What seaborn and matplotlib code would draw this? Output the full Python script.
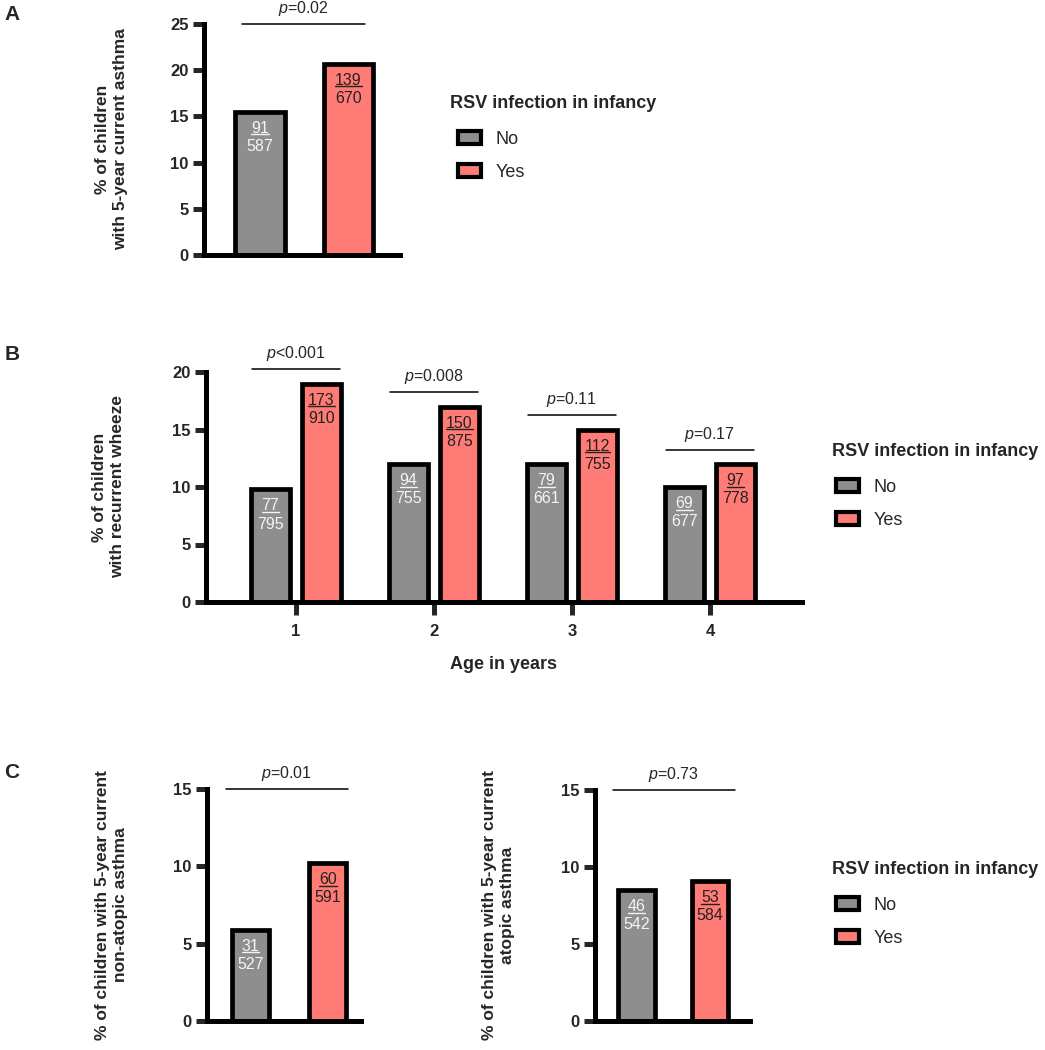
"""
rsv_asthma_bars.py
Bar charts: RSV infection in infancy vs. asthma / recurrent wheeze.
"""

import matplotlib
matplotlib.use("Agg")
import matplotlib.pyplot as plt
from matplotlib.patches import Patch
from matplotlib.lines import Line2D
import seaborn as sns
import pandas as pd

# ---- data ----
groups = ["No", "Yes"]

# A: 5-year current asthma
a_pct = [15.5, 20.7]
a_num = [91, 139]
a_den = [587, 670]
a_p = "=0.02"

# B: recurrent wheeze by age
b_ages = [1, 2, 3, 4]
b_no_pct = [9.8, 12.0, 12.0, 10.0]
b_yes_pct = [19.0, 17.0, 15.0, 12.0]
b_no_num = [77, 94, 79, 69]
b_no_den = [795, 755, 661, 677]
b_yes_num = [173, 150, 112, 97]
b_yes_den = [910, 875, 755, 778]
b_p = ["<0.001", "=0.008", "=0.11", "=0.17"]

# C: non-atopic / atopic asthma
c1_pct = [5.9, 10.2]
c1_num = [31, 60]
c1_den = [527, 591]
c1_p = "=0.01"
c2_pct = [8.5, 9.1]
c2_num = [46, 53]
c2_den = [542, 584]
c2_p = "=0.73"

legend_title = "RSV infection in infancy"
colors = {"No": "#8e8e8e", "Yes": "#ff7b75"}
text_colors = {"No": "#f4f4f4", "Yes": "#222222"}

sns.set_style("ticks")
plt.rcParams["font.family"] = ["Liberation Sans", "DejaVu Sans"]
plt.rcParams["mathtext.fontset"] = "custom"
plt.rcParams["mathtext.rm"] = "Liberation Sans"
plt.rcParams["mathtext.it"] = "Liberation Sans:italic"
plt.rcParams["mathtext.bf"] = "Liberation Sans:bold"

W, H = 1045, 1050
fig = plt.figure(figsize=(W / 100, H / 100), dpi=100)
numerators = []  # 需要加下划线的分子文本


def px_axes(left, right, bottom, top):
    """像素坐标 -> 图内比例坐标"""
    return fig.add_axes([left / W, (H - bottom) / H, (right - left) / W, (bottom - top) / H])


def style_axes(ax, ymax, xticks=False):
    sns.despine(ax=ax)
    for s in ["left", "bottom"]:
        ax.spines[s].set_linewidth(3.6)
        ax.spines[s].set_color("black")
    ax.set_ylim(0, ymax)
    ax.set_yticks(range(0, ymax + 1, 5))
    ax.tick_params(axis="y", length=8, width=3.6, labelsize=12, pad=3)
    if xticks:
        ax.tick_params(axis="x", length=9, width=3.6, labelsize=12, pad=7)
    else:
        ax.tick_params(axis="x", length=0, labelbottom=False)
    for lab in ax.get_yticklabels() + ax.get_xticklabels():
        lab.set_fontweight("bold")
    ax.set_xlabel("")


def label_bar(ax, bar, num, den, grp):
    x = bar.get_x() + bar.get_width() / 2
    y = bar.get_height()
    c = text_colors[grp]
    t = ax.annotate(str(num), xy=(x, y), xytext=(0, -12),
                    textcoords="offset points", ha="center", va="center",
                    fontsize=11.5, color=c)
    numerators.append((ax, t, c))
    ax.annotate(str(den), xy=(x, y), xytext=(0, -25), textcoords="offset points",
                ha="center", va="center", fontsize=11.5, color=c)


def add_p(ax, x0, x1, y, txt):
    ax.plot([x0, x1], [y, y], color="black", lw=1.1, clip_on=False)
    ax.annotate(r"$\mathit{p}$" + txt, xy=((x0 + x1) / 2, y), xytext=(0, 11),
                textcoords="offset points", ha="center", va="center",
                fontsize=11.5, annotation_clip=False)


def set_ylabel(ax, text, xfrac):
    ax.set_ylabel(text, fontsize=12.5, fontweight="bold", va="center",
                  multialignment="center", linespacing=1.25)
    ax.yaxis.set_label_coords(xfrac, 0.5)


def add_legend(title_x, title_y, box_x, rows_y):
    fig.text(title_x / W, 1 - title_y / H, legend_title, fontsize=13,
             fontweight="bold", ha="left", va="center")
    handles = [Patch(facecolor=colors[g], edgecolor="black", linewidth=3, label=g)
               for g in groups]
    fig.legend(handles=handles, loc="center left",
               bbox_to_anchor=(box_x / W, 1 - rows_y / H), frameon=False, fontsize=13,
               handlelength=1.3, handleheight=0.7, handletextpad=0.8,
               labelspacing=0.88, borderpad=0, borderaxespad=0)


def two_bar_panel(ax, pct, num, den, ptxt, width, ymax, span):
    df = pd.DataFrame({"group": groups, "pct": pct})
    sns.barplot(data=df, x="group", y="pct", hue="group", order=groups,
                palette=colors, saturation=1, width=width, edgecolor="black",
                linewidth=3.4, errorbar=None, legend=False, ax=ax)
    bars = sorted(ax.patches, key=lambda b: b.get_x())
    for b, g, n, d in zip(bars, groups, num, den):
        label_bar(ax, b, n, d, g)
    add_p(ax, span[0], span[1], ymax, ptxt)
    style_axes(ax, ymax)


# ---- A ----
axA = px_axes(204, 400, 255, 24)
two_bar_panel(axA, a_pct, a_num, a_den, a_p, 0.565, 25, (-0.2, 1.19))
axA.set_xlim(-0.633, 1.582)
set_ylabel(axA, "% of children\nwith 5-year current asthma", -0.47)
add_legend(450, 104, 458, 156)

# ---- B ----
axB = px_axes(206, 802, 602, 372)
dfB = pd.DataFrame({
    "age": b_ages * 2,
    "rsv": ["No"] * len(b_ages) + ["Yes"] * len(b_ages),
    "pct": b_no_pct + b_yes_pct,
})
sns.barplot(data=dfB, x="age", y="pct", hue="rsv", hue_order=groups, palette=colors,
            saturation=1, width=0.74, gap=0.24, edgecolor="black", linewidth=3.4,
            errorbar=None, legend=False, ax=axB)
fracs = {"No": (b_no_num, b_no_den), "Yes": (b_yes_num, b_yes_den)}
for cont, g in zip(axB.containers, groups):
    for b, n, d in zip(cont, *fracs[g]):
        label_bar(axB, b, n, d, g)
for i, ptxt in enumerate(b_p):
    no_bar = axB.containers[0][i]
    yes_bar = axB.containers[1][i]
    top = max(no_bar.get_height(), yes_bar.get_height()) + 1.25
    add_p(axB, no_bar.get_x() + 0.01, yes_bar.get_x() + yes_bar.get_width() - 0.01, top, ptxt)
style_axes(axB, 20, xticks=True)
axB.set_xlim(-0.652, 3.667)
axB.set_xlabel("Age in years", fontsize=13, fontweight="bold", labelpad=12)
set_ylabel(axB, "% of children\nwith recurrent wheeze", -0.163)
add_legend(832, 452, 836, 504)

# ---- C ----
axC1 = px_axes(207, 361, 1021, 789)
two_bar_panel(axC1, c1_pct, c1_num, c1_den, c1_p, 0.477, 15, (-0.316, 1.258))
axC1.set_xlim(-0.561, 1.426)
set_ylabel(axC1, "% of children with 5-year current\nnon-atopic asthma", -0.617)

axC2 = px_axes(595, 750, 1021, 790)
two_bar_panel(axC2, c2_pct, c2_num, c2_den, c2_p, 0.5, 15, (-0.32, 1.34))
axC2.set_xlim(-0.565, 1.544)
set_ylabel(axC2, "% of children with 5-year current\natopic asthma", -0.62)
add_legend(832, 869, 836, 922)

# 面板字母
for letter, y in [("A", 15), ("B", 355), ("C", 773)]:
    fig.text(12 / W, 1 - y / H, letter, fontsize=15, fontweight="bold",
             ha="center", va="center")

# 分子下划线：先渲染一次，取文本范围后在数据坐标里画线
fig.canvas.draw()
renderer = fig.canvas.get_renderer()
for ax, t, c in numerators:
    bb = t.get_window_extent(renderer)
    inv = ax.transData.inverted()
    (x0, y0), (x1, _) = inv.transform([(bb.x0, bb.y0 + 1.5), (bb.x1, bb.y0 + 1.5)])
    ax.add_line(Line2D([x0, x1], [y0, y0], color=c, lw=1.0))

fig.savefig("out.png", dpi=100)
